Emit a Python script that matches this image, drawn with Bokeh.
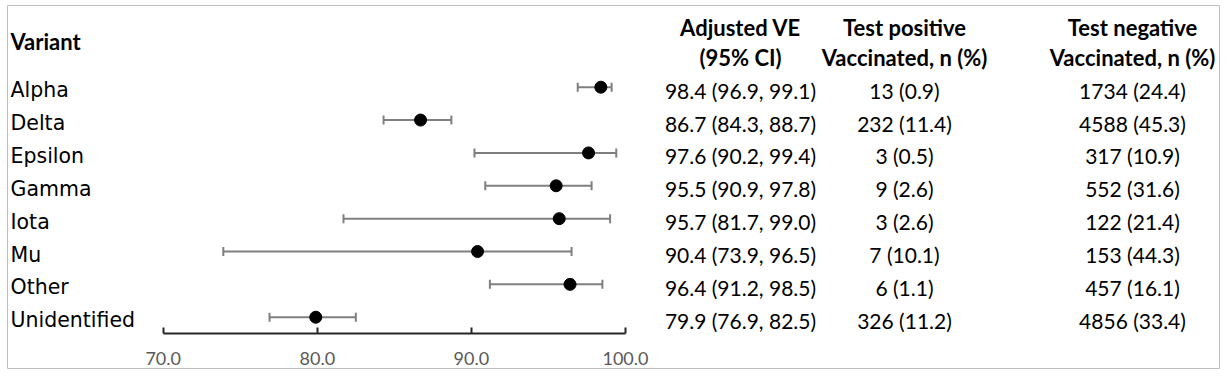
from bokeh.plotting import figure
from bokeh.models import (Range1d, LinearAxis, FixedTicker, NumeralTickFormatter,
                          ColumnDataSource, Whisker, TeeHead)
from bokeh.core.properties import value
from bokeh.embed import file_html
from bokeh.resources import INLINE

# ---------------- data ----------------
variants = ["Alpha", "Delta", "Epsilon", "Gamma", "Iota", "Mu", "Other", "Unidentified"]
ve = [98.4, 86.7, 97.6, 95.5, 95.7, 90.4, 96.4, 79.9]
ci_lo = [96.9, 84.3, 90.2, 90.9, 81.7, 73.9, 91.2, 76.9]
ci_hi = [99.1, 88.7, 99.4, 97.8, 99.0, 96.5, 98.5, 82.5]
pos_n = [13, 232, 3, 9, 3, 7, 6, 326]
pos_pct = [0.9, 11.4, 0.5, 2.6, 2.6, 10.1, 1.1, 11.2]
neg_n = [1734, 4588, 317, 552, 122, 153, 457, 4856]
neg_pct = [24.4, 45.3, 10.9, 31.6, 21.4, 44.3, 16.1, 33.4]
axis_ticks = [70, 80, 90, 100]
col_headers = [("Adjusted VE", "(95% CI)"),
               ("Test positive", "Vaccinated, n (%)"),
               ("Test negative", "Vaccinated, n (%)")]

# ---------------- layout ----------------
LEFT, TOP = 7, 5
FW, FH = 1212, 363
ROW_PX = 32.86
ROW0_PX = 86.7 - TOP
y_top = -ROW0_PX / ROW_PX
y_bot = y_top + FH / ROW_PX
PX_PER_UNIT = 15.41
X70_PX = 162.7 - LEFT
x_start = 70 - X70_PX / PX_PER_UNIT
x_end = x_start + FW / PX_PER_UNIT
AXIS_ROW = (333 - TOP - ROW0_PX) / ROW_PX

def sx(x):  # screen x -> frame px
    return x - LEFT

def sy(y):  # screen y -> row units
    return y_top + (y - TOP) / ROW_PX

LATO = value("Lato")
DEJAVU = value("DejaVu Sans")

p = figure(width=LEFT + FW + 2, height=TOP + FH + 1, output_backend="svg",
           toolbar_location=None,
           x_range=Range1d(x_start, x_end), y_range=Range1d(y_bot, y_top),
           min_border_left=LEFT, min_border_top=TOP, min_border_right=2,
           min_border_bottom=1, x_axis_location=None, y_axis_location=None)
p.extra_x_ranges = {"px": Range1d(0, FW)}
p.xgrid.visible = False
p.ygrid.visible = False
p.outline_line_color = "#bfbfbf"
p.outline_line_width = 1
p.background_fill_color = "white"
p.border_fill_color = "white"

rows = list(range(len(variants)))
src = ColumnDataSource(dict(
    y=rows, ve=ve, lo=ci_lo, hi=ci_hi, name=variants,
    ci=[f"{v:.1f} ({l:.1f}, {h:.1f})" for v, l, h in zip(ve, ci_lo, ci_hi)],
    pos=[f"{n} ({q:.1f})" for n, q in zip(pos_n, pos_pct)],
    neg=[f"{n} ({q:.1f})" for n, q in zip(neg_n, neg_pct)],
))

# error bars
GREY = "#7f7f7f"
p.segment(x0="lo", x1="hi", y0="y", y1="y", source=src, line_color=GREY, line_width=2)
w = Whisker(base="y", lower="lo", upper="hi", dimension="width", source=src,
            line_color=GREY, line_width=0,
            lower_head=TeeHead(size=9, line_color=GREY, line_width=2),
            upper_head=TeeHead(size=9, line_color=GREY, line_width=2))
p.add_layout(w)
p.scatter(x="ve", y="y", source=src, size=12, color="black")

# axis drawn inside the frame
ax = LinearAxis(fixed_location=AXIS_ROW, bounds=(70, 100),
                ticker=FixedTicker(ticks=axis_ticks),
                formatter=NumeralTickFormatter(format="0.0"))
ax.axis_line_color = "#262626"
ax.axis_line_width = 2
ax.major_tick_in = 6
ax.major_tick_out = 0
ax.major_tick_line_width = 2
ax.major_tick_line_color = "#262626"
ax.minor_tick_line_color = None
ax.major_label_standoff = 18
ax.major_label_text_font = "Lato"
ax.major_label_text_font_size = "18px"
ax.major_label_text_color = "#595959"
p.add_layout(ax, "below")

# row labels and table
p.text(x=sx(10), y="y", text="name", source=src, x_range_name="px", y_offset=3,
       text_font=DEJAVU, text_font_size="20.5px", text_baseline="middle",
       text_color="black")
col_x = [sx(740), sx(904), sx(1132)]
for cx, field in zip(col_x, ["ci", "pos", "neg"]):
    p.text(x=cx, y="y", text=field, source=src, x_range_name="px", y_offset=3,
           text_font=LATO, text_font_size="21px", text_align="center",
           text_baseline="middle", text_color="black")

# headers
p.text(x=[sx(10)], y=[sy(41)], text=["Variant"], x_range_name="px",
       text_font=LATO, text_font_size="22px", text_font_style="bold",
       text_baseline="middle", text_color="black")
p.text(x=col_x, y=[sy(27)] * 3, text=[h[0] for h in col_headers], x_range_name="px",
       text_font=LATO, text_font_size="22px", text_font_style="bold",
       text_align="center", text_baseline="middle", text_color="black")
p.text(x=col_x, y=[sy(57)] * 3, text=[h[1] for h in col_headers], x_range_name="px",
       text_font=LATO, text_font_size="22px", text_font_style="bold",
       text_align="center", text_baseline="middle", text_color="black")

open("out.html", "w").write(file_html(p, INLINE))
